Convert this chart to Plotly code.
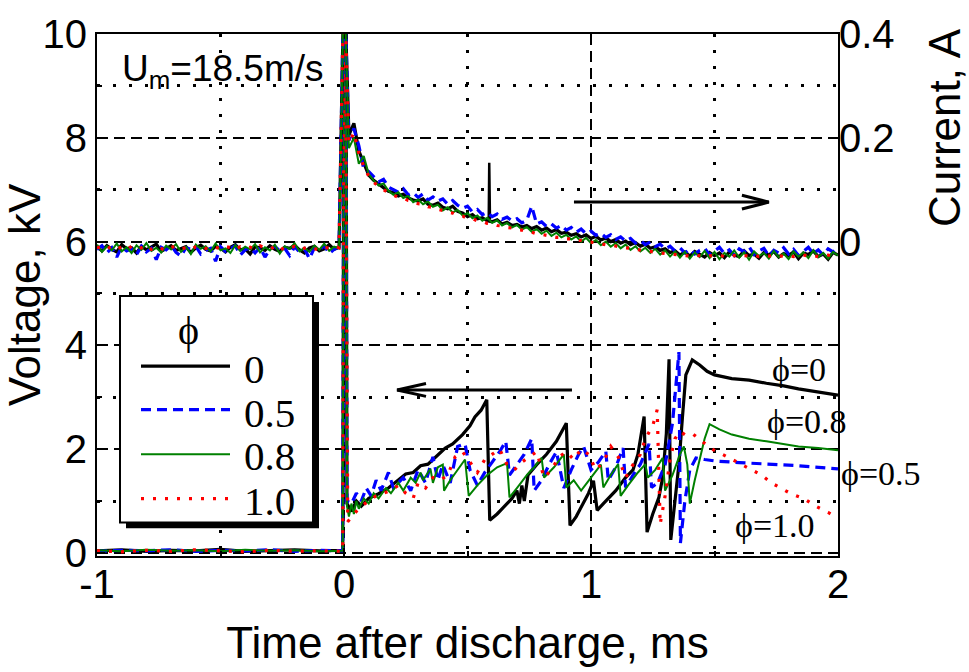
import plotly.graph_objects as go
import numpy as np

# ---------------- data ----------------
# Current traces (mA), uniformly sampled from t=-1 ms, step 0.02 ms
CUR_T0 = -1.0
CUR_DT = 0.02

cur_phi0 = [
    -10, -18, -8, -15, -20, -6, -14, -12, -22, -9,
    -16, -11, -5, -19, -13, -8, -17, -14, -10, -21,
    -12, -7, -15, -18, -9, -13, -20, -11, -6, -16,
    -14, -24, -10, -12, -17, -8, -15, -19, -11, -13,
    -7, -16, -22, -12, -9, -18, -14, -6, -15, -11,
    520, 205, 228, 175, 150, 128, 118, 110, 104, 97,
    94, 88, 91, 84, 80, 78, 82, 72, 70, 74,
    66, 63, 68, 58, 55, 48, 52, 44, 46, 40,
    38, 42, 34, 37, 31, 33, 28, 31, 25, 29,
    22, 26, 19, 23, 16, 18, 12, 15, 9, 13,
    6, 10, 3, 7, 0, 4, -3, 1, -6, -2,
    -9, -5, -13, -10, -17, -14, -21, -18, -26, -20,
    -28, -19, -25, -30, -21, -27, -22, -31, -20, -26,
    -29, -18, -27, -24, -32, -21, -26, -19, -30, -23,
    -27, -20, -33, -22, -25, -18, -29, -24, -34, -21,
    -26,
]
# short spike on the phi=0 current trace
spike_phi0_t = [0.583, 0.586, 0.588, 0.591]
spike_phi0_i = [44, 46, 152, 42]

cur_phi05 = [
    -15, -8, -22, -12, -30, -10, -18, -14, -25, -9,
    -20, -13, -35, -11, -16, -7, -21, -28, -12, -15,
    -9, -24, -17, -13, -38, -10, -19, -14, -8, -26,
    -16, -12, -22, -11, -30, -15, -9, -18, -13, -27,
    -10, -20, -14, -33, -12, -17, -8, -23, -15, -11,
    520, 195, 218, 185, 140, 135, 125, 115, 120, 105,
    100, 95, 102, 90, 94, 85, 92, 80, 86, 78,
    82, 72, 79, 70, 64, 68, 57, 62, 52, 56,
    48, 53, 43, 47, 40, 44, 36, 41, 68, 34,
    38, 29, 34, 26, 31, 22, 27, 18, 24, 15,
    20, 12, 16, 8, 13, 4, 9, 1, 6, -3,
    2, -6, -1, -10, -5, -14, -9, -18, -12, -22,
    -15, -24, -17, -13, -26, -19, -11, -23, -16, -27,
    -14, -20, -10, -25, -18, -13, -28, -17, -22, -12,
    -24, -15, -27, -19, -11, -23, -16, -26, -14, -20,
    -12,
]

cur_phi08 = [
    -6, -20, -9, -17, -4, -19, -11, -22, -7, -16,
    -3, -18, -12, -21, -8, -15, -5, -20, -10, -24,
    -6, -14, -9, -19, -4, -17, -13, -22, -7, -18,
    -10, -15, -5, -21, -11, -17, -6, -23, -9, -14,
    -3, -19, -12, -20, -8, -16, -4, -18, -10, -13,
    520, 180, 200, 150, 165, 130, 118, 108, 112, 98,
    90, 95, 84, 88, 76, 81, 72, 77, 67, 71,
    60, 66, 56, 61, 50, 55, 45, 50, 40, 46,
    36, 41, 31, 36, 27, 32, 23, 28, 19, 24,
    15, 21, 11, 17, 8, 13, 4, 10, 0, 7,
    -3, 3, -7, 0, -10, -3, -13, -6, -16, -9,
    -19, -12, -22, -14, -25, -17, -29, -19, -31, -20,
    -33, -21, -30, -18, -32, -20, -34, -22, -29, -17,
    -31, -21, -35, -19, -28, -22, -33, -18, -30, -23,
    -34, -19, -29, -21, -32, -17, -30, -22, -33, -20,
    -27,
]

cur_phi10 = [
    -12, -10, -15, -8, -13, -11, -16, -9, -14, -12,
    -7, -15, -10, -13, -17, -11, -9, -14, -12, -16,
    -10, -8, -13, -15, -11, -14, -9, -12, -16, -10,
    -13, -11, -15, -8, -12, -14, -10, -17, -11, -13,
    -9, -15, -12, -10, -14, -16, -11, -13, -9, -12,
    520, 190, 210, 170, 145, 126, 114, 106, 100, 94,
    90, 85, 84, 79, 78, 73, 72, 67, 66, 62,
    60, 56, 55, 50, 49, 45, 44, 40, 39, 35,
    34, 31, 30, 27, 26, 23, 22, 19, 18, 15,
    14, 12, 11, 8, 8, 5, 5, 2, 2, -1,
    -1, -3, -4, -6, -7, -9, -10, -12, -13, -15,
    -16, -18, -19, -21, -22, -23, -24, -25, -26, -27,
    -28, -26, -28, -29, -27, -28, -26, -29, -28, -27,
    -29, -27, -28, -26, -29, -27, -28, -26, -27, -29,
    -27, -29, -27, -26, -28, -27, -29, -27, -26, -28,
    -27,
]

# Voltage traces (kV) vs time (ms)
v_phi0_t = [-1.0, -0.9, -0.8, -0.7, -0.6, -0.5, -0.4, -0.3, -0.2, -0.1, -0.005, 0.0, 0.008, 0.012,
            0.03, 0.05, 0.07, 0.10, 0.14, 0.18, 0.22, 0.25, 0.28, 0.31, 0.34, 0.37, 0.41, 0.44, 0.48,
            0.51, 0.53, 0.555, 0.578, 0.59, 0.62, 0.66, 0.68, 0.70, 0.71, 0.72, 0.73, 0.745, 0.78,
            0.82, 0.86, 0.90, 0.915, 0.94, 0.96, 0.99, 1.01, 1.025, 1.05, 1.10, 1.14, 1.17, 1.19,
            1.215, 1.227, 1.25, 1.275, 1.29, 1.305, 1.316, 1.323, 1.34, 1.356, 1.37, 1.384, 1.41,
            1.44, 1.47, 1.50, 1.57, 1.64, 1.71, 1.78, 1.84, 1.92, 2.00]
v_phi0_v = [0.04, 0.06, 0.03, 0.05, 0.04, 0.07, 0.03, 0.05, 0.06, 0.04, 0.05, 11, 11, 0.95,
            0.80, 1.00, 0.90, 1.05, 1.14, 1.25, 1.40, 1.52, 1.55, 1.68, 1.71, 1.85, 2.02, 2.10, 2.28,
            2.45, 2.62, 2.75, 2.95, 0.63, 0.75, 0.95, 1.05, 1.20, 0.95, 1.30, 1.00, 1.50, 1.70,
            1.90, 2.15, 2.50, 0.53, 0.70, 0.88, 1.15, 1.39, 0.82, 0.95, 1.20, 1.45, 1.60, 1.90,
            2.63, 0.40, 0.75, 1.07, 1.45, 2.30, 3.73, 0.25, 0.95, 1.71, 2.60, 3.43, 3.72,
            3.62, 3.50, 3.43, 3.36, 3.33, 3.27, 3.22, 3.16, 3.10, 3.04]

v_phi05_t = [-1.0, -0.9, -0.8, -0.7, -0.6, -0.5, -0.4, -0.3, -0.2, -0.1, -0.005, 0.0, 0.008, 0.012,
             0.03, 0.05, 0.07, 0.09, 0.11, 0.13, 0.15, 0.18, 0.20, 0.24, 0.27, 0.30, 0.33, 0.36, 0.38,
             0.40, 0.43, 0.46, 0.49, 0.51, 0.54, 0.57, 0.60, 0.63, 0.655, 0.67, 0.70, 0.73, 0.76,
             0.77, 0.80, 0.83, 0.86, 0.89, 0.92, 0.95, 0.97, 1.00, 1.03, 1.06, 1.07, 1.10, 1.13,
             1.14, 1.17, 1.20, 1.235, 1.245, 1.27, 1.30, 1.33, 1.356, 1.362, 1.38, 1.40, 1.425,
             1.46, 1.505, 1.60, 1.71, 1.84, 2.00]
v_phi05_v = [0.03, 0.05, 0.04, 0.06, 0.03, 0.05, 0.04, 0.06, 0.03, 0.05, 0.04, 11, 11, 1.00,
             0.95, 1.15, 1.00, 1.25, 1.10, 1.40, 1.20, 1.55, 1.25, 1.45, 1.20, 1.60, 1.35, 1.85, 1.40,
             1.70, 1.35, 2.05, 2.10, 1.60, 1.30, 1.55, 1.75, 1.95, 2.15, 1.50, 1.70, 1.90, 2.20,
             1.20, 1.40, 1.70, 1.95, 1.25, 1.60, 1.90, 2.05, 1.60, 1.75, 1.96, 1.40, 1.65, 2.02,
             1.26, 1.50, 1.71, 2.10, 1.26, 1.35, 1.70, 2.50, 3.87, 0.19, 1.00, 1.60, 1.83,
             1.80, 1.77, 1.74, 1.71, 1.68, 1.62]

v_phi08_t = [-1.0, -0.9, -0.8, -0.7, -0.6, -0.5, -0.4, -0.3, -0.2, -0.1, -0.005, 0.0, 0.008, 0.012,
             0.02, 0.03, 0.04, 0.05, 0.06, 0.08, 0.10, 0.12, 0.14, 0.17, 0.19, 0.22, 0.24, 0.27, 0.29,
             0.31, 0.32, 0.35, 0.36, 0.38, 0.40, 0.405, 0.43, 0.46, 0.49, 0.505, 0.54, 0.58, 0.62,
             0.66, 0.67, 0.70, 0.74, 0.77, 0.80, 0.81, 0.85, 0.89, 0.90, 0.93, 0.96, 1.00, 1.04,
             1.05, 1.08, 1.11, 1.12, 1.15, 1.19, 1.22, 1.23, 1.26, 1.29, 1.30, 1.33, 1.36, 1.376,
             1.39, 1.40, 1.42, 1.44, 1.46, 1.48, 1.52, 1.57, 1.64, 1.71, 1.78, 1.84, 1.92, 2.00]
v_phi08_v = [0.05, 0.03, 0.06, 0.04, 0.05, 0.03, 0.06, 0.04, 0.05, 0.03, 0.04, 11, 11, 0.90,
             0.70, 0.95, 0.75, 1.00, 0.85, 1.05, 0.95, 1.15, 1.05, 1.25, 1.15, 1.35, 1.20, 1.45, 1.35,
             1.55, 1.40, 1.62, 1.35, 1.65, 1.70, 1.20, 1.40, 1.60, 1.80, 1.10, 1.30, 1.50, 1.65,
             1.73, 1.07, 1.25, 1.50, 1.65, 1.83, 1.45, 1.65, 1.90, 1.26, 1.40, 1.20, 1.45, 1.70,
             1.26, 1.50, 1.71, 1.10, 1.30, 1.55, 1.71, 1.45, 1.60, 1.83, 1.20, 1.50, 1.90, 2.05,
             1.70, 0.95, 1.40, 1.83, 2.20, 2.48, 2.38, 2.28, 2.20, 2.15, 2.10, 2.05, 2.02, 1.98]

v_phi10_t = [-1.0, -0.9, -0.8, -0.7, -0.6, -0.5, -0.4, -0.3, -0.2, -0.1, -0.005, 0.0, 0.005, 0.015,
             0.04, 0.07, 0.10, 0.13, 0.16, 0.19, 0.22, 0.25, 0.28, 0.30, 0.33, 0.36, 0.39, 0.42, 0.45,
             0.48, 0.51, 0.54, 0.57, 0.60, 0.63, 0.66, 0.69, 0.72, 0.75, 0.78, 0.81, 0.84, 0.87,
             0.90, 0.93, 0.96, 0.99, 1.02, 1.05, 1.08, 1.11, 1.14, 1.17, 1.20, 1.22, 1.25, 1.268,
             1.275, 1.28, 1.30, 1.32, 1.34, 1.36, 1.38, 1.41, 1.45, 1.49, 1.54, 1.61, 1.69, 1.73,
             1.81, 1.86, 1.91, 1.96, 2.00]
v_phi10_v = [0.04, 0.02, 0.05, 0.03, 0.06, 0.04, 0.02, 0.05, 0.03, 0.04, 0.03, 11, 11, 0.60,
             0.75, 0.90, 1.00, 1.10, 1.15, 1.20, 1.30, 1.15, 1.05, 1.35, 1.25, 1.45, 1.40, 1.50, 1.85,
             1.95, 1.75, 1.55, 1.80, 1.90, 2.00, 1.70, 1.60, 1.75, 1.85, 1.95, 1.45, 1.60, 1.85,
             1.95, 1.80, 2.00, 1.90, 1.60, 1.75, 2.05, 1.85, 1.45, 1.70, 1.90, 2.20, 2.45, 2.76,
             1.60, 0.55, 1.10, 1.80, 2.20, 2.34, 2.28, 2.30, 2.15, 2.00, 1.88, 1.71, 1.50, 1.35,
             1.14, 1.05, 0.90, 0.78, 0.67]

phi_names = ["0", "0.5", "0.8", "1.0"]
x_ticks = [-1, 0, 1, 2]
x_ticktext = ["-1", "0", "1", "2"]
y_ticks = [0, 2, 4, 6, 8, 10]
y2_ticks = [0, 0.2, 0.4]
y2_ticktext = ["0", "0.2", "0.4"]

# ---------------- styling ----------------
styles = [
    dict(color="#000000", width=3.2, dash="solid"),
    dict(color="#0000FF", width=3.2, dash="10px,6px"),
    dict(color="#008000", width=2.0, dash="solid"),
    dict(color="#FF0000", width=3.2, dash="3px,9px"),
]
volt_sets = [(v_phi0_t, v_phi0_v), (v_phi05_t, v_phi05_v), (v_phi08_t, v_phi08_v), (v_phi10_t, v_phi10_v)]
cur_sets = [cur_phi0, cur_phi05, cur_phi08, cur_phi10]

Y_RANGE = [-0.06, 10]
V_OFFSET = 6.0      # voltage value at which current = 0
A_PER_KV = 0.1      # current-axis scale
Y2_RANGE = [(v - V_OFFSET) * A_PER_KV for v in Y_RANGE]

SERIF = "Liberation Serif, Times New Roman, serif"
SANS = "Liberation Sans, Arial, sans-serif"

# plot area in pixels (for placing paper-referenced decorations)
L, R, T, B = 97, 131, 28, 116
W, H = 969, 672
PW, PH = W - L - R, H - T - B


def px(xp):
    return (xp - L) / PW


def py(yp):
    return (H - B - yp) / PH


fig = go.Figure()

for k in range(4):
    st = styles[k]
    line = dict(color=st["color"], width=st["width"], dash=st["dash"])
    vt, vv = volt_sets[k]
    fig.add_trace(go.Scatter(x=vt, y=vv, mode="lines", line=line, name=phi_names[k],
                             legendgroup=phi_names[k], showlegend=False))
    fig.add_trace(go.Scatter(x0=CUR_T0, dx=CUR_DT, y=np.array(cur_sets[k]) / 1000.0,
                             mode="lines", line=line, yaxis="y2", legendgroup=phi_names[k],
                             name=phi_names[k], showlegend=False))
    if k == 0:
        fig.add_trace(go.Scatter(x=spike_phi0_t, y=np.array(spike_phi0_i) / 1000.0, mode="lines",
                                 line=dict(color=st["color"], width=2.5), yaxis="y2",
                                 legendgroup=phi_names[k], name=phi_names[k], showlegend=False))

major_grid = dict(showgrid=True, gridcolor="black", gridwidth=1.6, griddash="11px,6px")

fig.update_layout(
    width=W, height=H,
    margin=dict(l=L, r=R, t=T, b=B),
    plot_bgcolor="white", paper_bgcolor="white",
    font=dict(family=SANS, size=40, color="black"),
    showlegend=False,
    xaxis=dict(range=[-1, 2], tickmode="array", tickvals=x_ticks, ticktext=x_ticktext,
               ticks="inside", ticklen=8, tickwidth=1.5, tickcolor="black", ticklabelstandoff=-8,
               showline=True, linecolor="black", linewidth=2, mirror=True, zeroline=False,
               minor=dict(tickvals=[-0.5, 0.5, 1.5], showgrid=True, gridcolor="black", gridwidth=2.5,
                          griddash="2.5px,13.5px", ticks="inside", ticklen=5, tickcolor="black"),
               title=dict(text="Time after discharge, ms", font=dict(size=44), standoff=22),
               **major_grid),
    yaxis=dict(range=Y_RANGE, tickmode="array", tickvals=y_ticks,
               ticks="inside", ticklen=8, tickwidth=1.5, tickcolor="black",
               showline=True, linecolor="black", linewidth=2, mirror=True, zeroline=False,
               minor=dict(tickvals=[1, 3, 5, 7, 9], showgrid=True, gridcolor="black", gridwidth=2.5,
                          griddash="2.5px,13.5px", ticks="inside", ticklen=5, tickcolor="black"),
               title=dict(text="Voltage, kV", font=dict(size=44), standoff=0),
               **major_grid),
    yaxis2=dict(range=Y2_RANGE, overlaying="y", side="right", tickmode="array",
                tickvals=y2_ticks, ticktext=y2_ticktext, ticks="inside", ticklen=8, tickwidth=1.5,
                tickcolor="black", showgrid=False, zeroline=False, showline=False),
)

# right-axis title (placed high, as in the original)
fig.add_annotation(x=px(945), y=py(122), xref="paper", yref="paper", text="Current, A",
                   xanchor="center", yanchor="middle",
                   textangle=-90, showarrow=False, font=dict(family=SANS, size=44))

# speed annotation
fig.add_annotation(x=px(120), y=py(65), xref="paper", yref="paper", xanchor="left", yanchor="middle",
                   text="U<sub>m</sub>=18.5m/s", showarrow=False, font=dict(family=SANS, size=37))

# curve labels
phi_labels = [("\u03d5=0", 799, 367), ("\u03d5=0.8", 807, 420),
              ("\u03d5=0.5", 881, 473), ("\u03d5=1.0", 775, 525)]
for txt, lx, ly in phi_labels:
    fig.add_annotation(x=px(lx), y=py(ly), xref="paper", yref="paper", text=txt, showarrow=False,
                       xanchor="center", yanchor="middle", font=dict(family=SERIF, size=34))

# arrows (open heads)
arrows = [  # (x_tail, x_head, y, head_len, head_half)
    (0.931, 1.72, 6.76, 0.109, 0.133),
    (0.923, 0.215, 3.14, 0.117, 0.124),
]
for xt, xh, ya, hl, hw in arrows:
    sgn = 1 if xh > xt else -1
    fig.add_shape(type="line", x0=xt, x1=xh, y0=ya, y1=ya, xref="x", yref="y",
                  line=dict(color="black", width=3))
    fig.add_shape(type="path", xref="x", yref="y",
                  path=f"M {xh - sgn*hl},{ya + hw} L {xh},{ya} L {xh - sgn*hl},{ya - hw}",
                  line=dict(color="black", width=3))

# legend box with drop shadow
LEG = dict(x0=120, x1=313, y0=293, y1=522, shadow=6)
fig.add_shape(type="rect", xref="paper", yref="paper",
              x0=px(LEG["x0"] + LEG["shadow"]), x1=px(LEG["x1"] + LEG["shadow"]),
              y0=py(LEG["y1"] + LEG["shadow"]), y1=py(LEG["y0"] + LEG["shadow"]),
              fillcolor="black", line=dict(width=0), layer="above")
fig.add_shape(type="rect", xref="paper", yref="paper",
              x0=px(LEG["x0"]), x1=px(LEG["x1"]), y0=py(LEG["y1"]), y1=py(LEG["y0"]),
              fillcolor="white", line=dict(color="black", width=2), layer="above")
fig.add_annotation(x=px(188), y=py(328), xref="paper", yref="paper", text="\u03d5",
                   xanchor="center", yanchor="middle",
                   showarrow=False, font=dict(family=SERIF, size=40))
leg_line_y = [364, 408, 453, 498]
leg_text_y = [367, 411, 455, 500]
for k in range(4):
    st = styles[k]
    fig.add_shape(type="line", xref="paper", yref="paper", x0=px(141), x1=px(230),
                  y0=py(leg_line_y[k]), y1=py(leg_line_y[k]), layer="above",
                  line=dict(color=st["color"], width=st["width"], dash=st["dash"]))
    fig.add_annotation(x=px(242), y=py(leg_text_y[k]), xref="paper", yref="paper",
                       xanchor="left", yanchor="middle", text=phi_names[k], showarrow=False,
                       font=dict(family=SERIF, size=41))

fig.write_html("out.html")
